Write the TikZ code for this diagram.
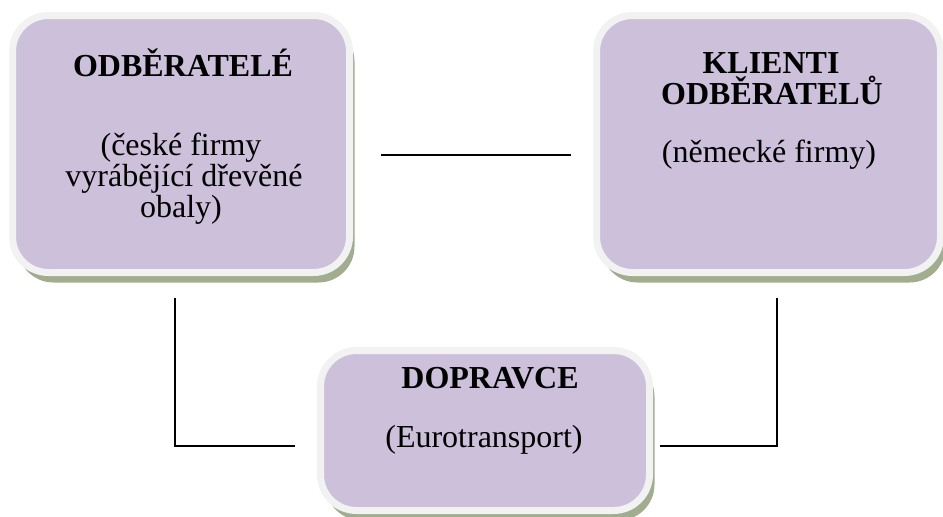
\documentclass[tikz,border=0pt]{standalone}
\usepackage{fontspec}
\setmainfont{Liberation Serif}
\usetikzlibrary{shadows}
\definecolor{cardfill}{HTML}{CCC0DA}
\definecolor{cardring}{HTML}{F2F2F2}
\definecolor{cardshadow}{HTML}{A2AC8E}
\begin{document}
\begin{tikzpicture}[x=1pt,y=-1pt,
  card/.style={rectangle, rounded corners=36pt, fill=cardfill, draw=cardring,
    line width=7pt, inner sep=0pt,
    drop shadow={shadow xshift=5pt, shadow yshift=-10pt, fill=cardshadow, opacity=1}},
  title/.style={font=\fontsize{32}{34}\selectfont\bfseries, anchor=base, inner sep=0pt},
  sub/.style={font=\fontsize{32}{34}\selectfont, anchor=base, inner sep=0pt},
  link/.style={line width=1.8pt, black}]
\useasboundingbox (0,0) rectangle (943,517);

% the three parties
\node[card, minimum width=337pt, minimum height=257pt] (odb) at (181,144) {};
\node[card, minimum width=344pt, minimum height=257pt] (kli) at (768.5,144) {};
\node[card, minimum width=329pt, minimum height=160pt] (dop) at (485,430.5) {};

% their labels
\node[title] (odbT) at (183,76) {ODBĚRATELÉ};
\node[sub] (odb1) at (181,155) {(české firmy};
\node[sub] (odb2) at (184,186) {vyrábějící dřevěné};
\node[sub] (odb3) at (181,217) {obaly)};

\node[title] (kliT1) at (771,73) {KLIENTI};
\node[title] (kliT2) at (772,104) {ODBĚRATELŮ};
\node[sub] (kli1) at (769,162) {(německé firmy)};

\node[title] (dopT) at (490,388) {DOPRAVCE};
\node[sub] (dop1) at (484,447) {(Eurotransport)};

% connector end points, kept clear of the cards
\coordinate (odbE) at (381,155);
\coordinate (kliW) at (571,155);
\coordinate (odbS) at (175,298);
\coordinate (dopW) at (295,446);
\coordinate (kliS) at (777,298);
\coordinate (dopE) at (660,446);

\draw[link] (odbE) -- (kliW);
\draw[link] (odbS) |- (dopW);
\draw[link] (kliS) |- (dopE);
\end{tikzpicture}
\end{document}
